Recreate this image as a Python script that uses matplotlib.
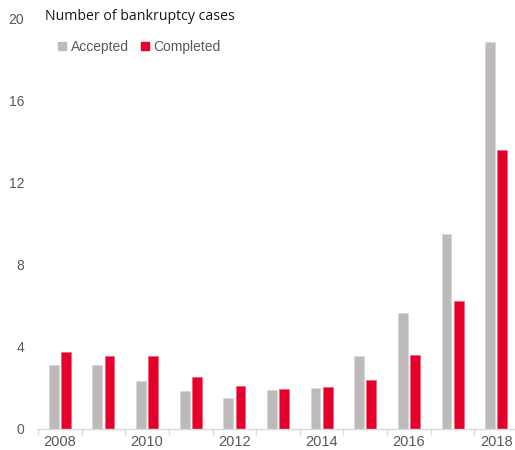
import matplotlib
matplotlib.use("Agg")
import matplotlib.pyplot as plt
from matplotlib.lines import Line2D
import numpy as np

years = [2008, 2009, 2010, 2011, 2012, 2013, 2014, 2015, 2016, 2017, 2018]
accepted = [3.12, 3.12, 2.34, 1.85, 1.5, 1.9, 2.0, 3.56, 5.66, 9.5, 18.9]
completed = [3.76, 3.56, 3.56, 2.54, 2.1, 1.95, 2.05, 2.39, 3.6, 6.24, 13.6]
y_ticks = [0, 4, 8, 12, 16, 20]
x_labels = ["2008", "", "2010", "", "2012", "", "2014", "", "2016", "", "2018"]

GRAY = "#BEBABA"
RED = "#E4002B"
TXT = "#595959"

plt.rcParams['font.family'] = ['Liberation Sans', 'DejaVu Sans']

fig = plt.figure(figsize=(5.15, 4.5), dpi=100)
ax = fig.add_axes([38/515, 1-429/450, 480/515, 410/450])

x = np.arange(len(years))
w = 0.225
ax.bar(x - 0.14, accepted, width=w, color=GRAY, edgecolor="#D8D5D5", linewidth=0.5)
ax.bar(x + 0.14, completed, width=w, color=RED, edgecolor="#F0607A", linewidth=0.5)

ax.set_xlim(-0.5, len(years) - 0.5)
ax.set_ylim(0, 20)
ax.set_yticks(y_ticks)
ax.set_yticklabels([str(v) for v in y_ticks])
ax.tick_params(axis='y', length=0, pad=10, labelsize=10, labelcolor=TXT)

ax.set_xticks(x)
ax.set_xticklabels(x_labels)
ax.tick_params(axis='x', which='major', length=0, pad=4, labelsize=10.5, labelcolor=TXT)
ax.set_xticks(np.arange(-0.5, len(years), 1.0), minor=True)
ax.tick_params(axis='x', which='minor', length=4, color="#D9D9D9", width=1)

for s in ['top', 'right', 'left']:
    ax.spines[s].set_visible(False)
ax.spines['bottom'].set_color("#D9D9D9")
ax.spines['bottom'].set_linewidth(1)

fig.text(45/515, 1-16/450, "Number of bankruptcy cases", fontsize=10.2,
         family=['Open Sans', 'DejaVu Sans'], color="#1a1a1a", va='center', ha='left')

handles = [Line2D([], [], marker='s', linestyle='none', color=GRAY, markersize=5.5),
           Line2D([], [], marker='s', linestyle='none', color=RED, markersize=5.5)]
leg = fig.legend(handles, ["Accepted", "Completed"], loc='center left',
                 bbox_to_anchor=(58/515, 1-47/450), ncol=2, frameon=False,
                 fontsize=10, handlelength=0.6, handletextpad=0.3, columnspacing=0.9,
                 borderaxespad=0, borderpad=0)
for t in leg.get_texts():
    t.set_color(TXT)

fig.savefig("out.png", dpi=100)
